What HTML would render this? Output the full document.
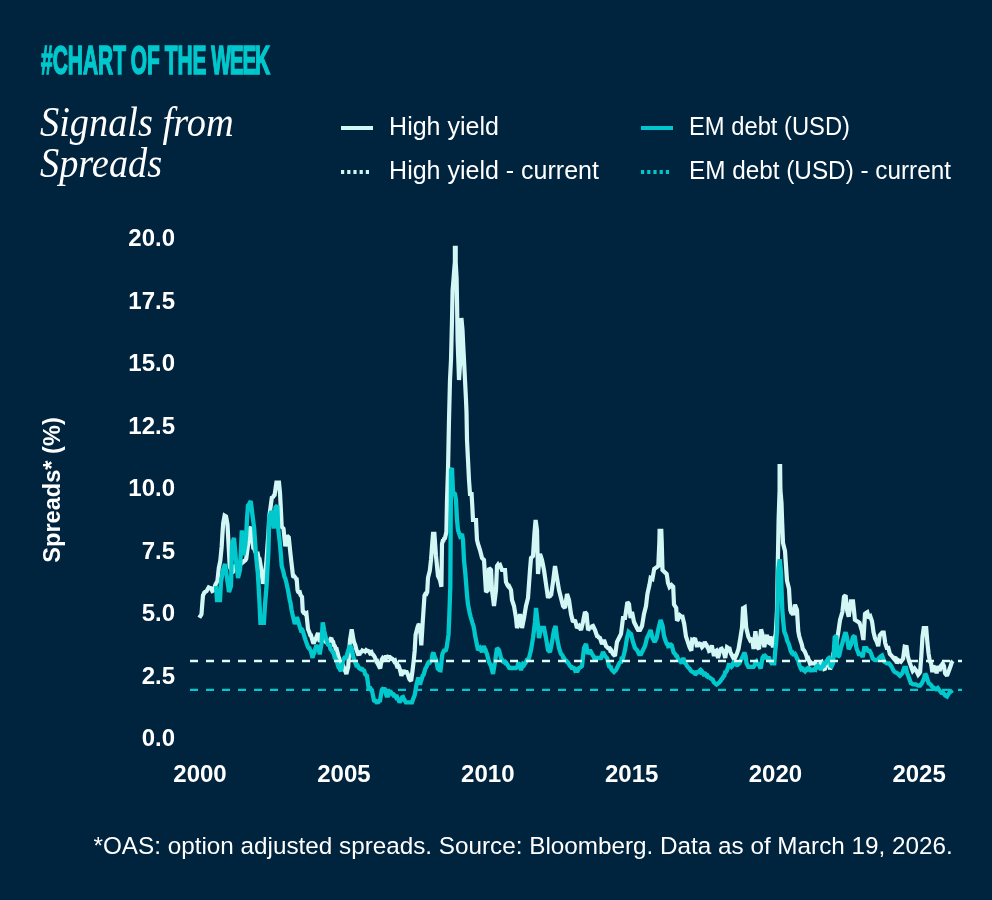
<!DOCTYPE html>
<html><head><meta charset="utf-8">
<style>
html,body{margin:0;padding:0;}
body{width:992px;height:900px;background:#00233e;position:relative;overflow:hidden;font-family:"Liberation Sans",sans-serif;color:#fff;}
.abs{position:absolute;white-space:nowrap;}
#kicker{left:41px;top:40.9px;font-family:"Liberation Sans",sans-serif;font-weight:bold;font-size:40.3px;color:#00c8cc;transform-origin:0 0;transform:scaleX(0.52);letter-spacing:0px;word-spacing:-2px;-webkit-text-stroke:1.6px #00c8cc;line-height:1;}
.title{left:40px;font-family:"Liberation Serif",serif;font-style:italic;font-size:43px;line-height:1;color:#fff;transform-origin:0 0;transform:scaleX(0.892);}
.leg{font-size:25px;line-height:1;color:#fff;transform-origin:0 0;}
.sw{position:absolute;height:4px;}
.ytick{position:absolute;right:817px;font-weight:bold;font-size:24px;line-height:1;text-align:right;}
.xtick{position:absolute;font-weight:bold;font-size:24px;line-height:1;width:100px;text-align:center;top:761.8px;}
#ylab{left:53.2px;top:489.5px;font-weight:bold;font-size:23.6px;line-height:1;transform:translate(-50%,-50%) rotate(-90deg);}
#foot{left:93.5px;top:833.5px;font-size:24.27px;line-height:1;}
</style></head>
<body>
<div id="kicker" class="abs">#CHART OF THE <span style="letter-spacing:-2.6px;margin-left:0px">WEEK</span></div>
<div class="abs title" style="top:100.4px">Signals from</div>
<div class="abs title" style="top:141.2px">Spreads</div>

<div class="sw" style="left:341px;top:126px;width:32px;background:#d2f7f5"></div>
<div class="abs leg" style="left:389.1px;top:114.4px">High yield</div>
<svg class="abs" style="left:341px;top:170px" width="30" height="4"><line x1="0" y1="2" x2="30" y2="2" stroke="#d2f7f5" stroke-width="4" stroke-dasharray="3.2 3"/></svg>
<div class="abs leg" style="left:389.1px;top:157.8px">High yield - current</div>

<div class="sw" style="left:641px;top:125.5px;width:32px;background:#00c8cc"></div>
<div class="abs leg" style="left:688.7px;top:114.4px;transform:scaleX(0.95)">EM debt (USD)</div>
<svg class="abs" style="left:641px;top:169.5px" width="30" height="4"><line x1="0" y1="2" x2="30" y2="2" stroke="#00c8cc" stroke-width="4" stroke-dasharray="3.2 3"/></svg>
<div class="abs leg" style="left:688.7px;top:157.8px;transform:scaleX(0.972)">EM debt (USD) - current</div>

<div id="ylab" class="abs">Spreads* (%)</div>

<div class="ytick" style="top:226px">20.0</div>
<div class="ytick" style="top:288.5px">17.5</div>
<div class="ytick" style="top:351px">15.0</div>
<div class="ytick" style="top:413.5px">12.5</div>
<div class="ytick" style="top:476px">10.0</div>
<div class="ytick" style="top:538.5px">7.5</div>
<div class="ytick" style="top:601px">5.0</div>
<div class="ytick" style="top:663.5px">2.5</div>
<div class="ytick" style="top:726px">0.0</div>

<div class="xtick" style="left:150px">2000</div>
<div class="xtick" style="left:293.9px">2005</div>
<div class="xtick" style="left:437.8px">2010</div>
<div class="xtick" style="left:581.7px">2015</div>
<div class="xtick" style="left:725.4px">2020</div>
<div class="xtick" style="left:869.1px">2025</div>

<svg class="abs" style="left:0;top:0" width="992" height="900" id="chart">
<path d="M199.3 617.8 L200.0 616.6 L200.8 615.4 L201.5 614.2 L202.2 604.8 L203.0 595.4 L203.7 594.0 L204.4 592.5 L205.1 592.0 L205.9 591.5 L206.6 591.0 L207.3 589.8 L208.0 588.6 L208.7 587.4 L209.4 587.7 L210.2 587.9 L210.9 588.2 L211.6 589.6 L212.3 591.0 L213.1 590.6 L213.8 590.3 L214.5 587.8 L215.2 585.3 L215.9 583.8 L216.7 582.4 L217.4 580.9 L218.1 574.4 L218.8 567.9 L219.6 564.3 L220.3 560.7 L221.0 553.5 L221.7 546.2 L222.4 534.7 L223.2 523.1 L223.9 519.4 L224.6 515.6 L225.3 516.0 L226.0 516.4 L226.8 520.5 L227.5 524.6 L228.5 543.4 L229.7 566.5 L230.5 568.3 L231.2 570.2 L232.0 572.0 L232.8 572.0 L233.5 570.7 L234.2 567.6 L235.0 566.0 L235.8 566.1 L236.5 566.7 L237.2 569.0 L238.0 570.0 L239.0 568.0 L240.0 566.0 L240.9 563.6 L241.8 561.9 L242.7 562.4 L243.6 561.7 L244.4 560.8 L245.3 560.4 L246.2 558.8 L247.1 551.9 L248.0 545.0 L248.8 537.0 L249.5 529.0 L250.2 528.0 L251.0 527.0 L252.0 540.0 L252.7 544.0 L253.3 548.0 L254.2 548.6 L255.1 551.5 L256.0 553.2 L256.9 555.0 L257.8 554.4 L258.6 558.2 L259.5 558.8 L260.4 564.1 L261.3 569.5 L262.1 576.6 L263.0 583.7 L263.9 580.2 L264.9 576.6 L265.8 567.7 L266.6 558.8 L267.5 545.0 L268.4 533.6 L269.3 516.2 L270.2 510.0 L271.1 502.9 L272.0 496.6 L272.9 497.8 L273.7 495.8 L274.6 494.9 L275.5 488.8 L276.4 482.6 L277.3 482.6 L278.1 482.6 L279.0 482.6 L280.0 493.0 L280.9 509.9 L281.7 526.8 L282.6 527.7 L283.5 528.6 L284.4 537.5 L285.3 546.4 L286.1 541.0 L287.0 535.7 L287.9 536.6 L288.8 537.5 L289.7 546.4 L290.6 555.3 L291.4 562.2 L292.2 569.1 L293.0 576.0 L293.7 577.4 L294.4 576.3 L295.2 577.3 L295.9 578.6 L296.6 577.8 L297.5 590.0 L298.2 591.9 L299.0 592.5 L299.8 592.3 L300.5 595.1 L301.2 595.9 L302.0 597.0 L302.8 611.6 L303.7 612.8 L304.6 612.7 L305.5 614.0 L306.4 613.4 L307.2 621.2 L308.0 629.0 L308.7 630.8 L309.5 632.8 L310.2 635.0 L311.0 635.2 L311.7 638.0 L312.6 640.8 L313.5 643.6 L314.3 641.7 L315.2 639.9 L316.0 638.0 L317.0 635.5 L318.0 633.0 L318.9 637.4 L319.7 641.8 L320.6 640.2 L321.5 638.8 L322.4 638.0 L323.1 640.5 L323.8 639.4 L324.6 640.9 L325.3 641.6 L326.0 641.8 L326.9 642.7 L327.7 643.6 L328.4 642.2 L329.1 640.0 L329.9 641.1 L330.6 638.8 L331.3 638.0 L332.2 641.1 L333.1 641.8 L334.0 645.4 L334.9 646.2 L335.7 648.9 L336.6 649.0 L337.5 652.5 L338.4 656.0 L339.2 658.7 L340.0 661.4 L340.7 663.6 L341.5 662.5 L342.2 663.6 L343.0 665.7 L343.7 666.8 L344.6 669.7 L345.5 671.7 L346.4 673.9 L347.3 670.3 L348.2 666.8 L349.1 653.4 L350.0 640.0 L350.9 634.7 L351.7 629.4 L352.6 634.7 L353.5 640.0 L354.4 643.3 L355.3 645.1 L356.2 649.0 L357.1 651.5 L358.0 654.0 L358.9 653.9 L359.8 653.8 L360.6 652.0 L361.5 651.8 L362.3 650.5 L363.0 650.9 L363.8 652.1 L364.6 649.8 L365.4 651.1 L366.1 650.2 L366.9 650.9 L367.6 650.9 L368.4 651.0 L369.1 651.4 L369.8 652.8 L370.6 652.0 L371.3 651.8 L372.2 654.3 L373.1 654.5 L374.0 656.0 L374.9 657.4 L375.8 659.9 L376.6 659.1 L377.5 663.2 L378.4 664.9 L379.3 666.9 L380.2 668.5 L381.0 664.0 L381.8 659.6 L382.7 658.2 L383.6 659.1 L384.4 657.9 L385.3 657.9 L386.1 655.8 L386.8 657.5 L387.6 656.7 L388.3 656.9 L389.1 657.1 L389.8 657.1 L390.7 658.7 L391.6 658.3 L392.5 658.8 L393.4 659.9 L394.2 661.3 L395.1 660.6 L396.0 663.2 L396.7 665.2 L397.4 664.5 L398.2 666.7 L398.9 666.6 L399.6 668.5 L400.5 672.1 L401.4 675.7 L402.3 673.2 L403.1 671.8 L404.0 670.3 L404.9 672.3 L405.8 672.0 L406.7 672.0 L407.6 673.9 L408.5 676.6 L409.4 679.2 L410.2 680.1 L411.1 681.0 L412.1 673.9 L413.0 666.8 L413.9 658.8 L414.7 650.7 L415.6 634.7 L416.5 631.2 L417.4 627.6 L418.3 625.3 L419.1 625.2 L420.0 624.0 L420.6 634.7 L421.3 645.4 L422.0 633.8 L422.7 622.3 L423.6 609.0 L424.5 595.6 L425.4 593.8 L426.3 594.0 L427.2 592.0 L428.0 577.8 L428.9 574.2 L429.8 570.7 L431.0 560.0 L432.0 547.0 L433.0 533.9 L433.7 533.9 L434.4 533.9 L435.2 545.0 L436.0 556.0 L437.0 566.0 L438.0 576.0 L439.0 578.0 L440.0 580.0 L440.7 583.4 L441.4 586.7 L442.0 544.0 L442.8 540.8 L443.5 540.6 L444.2 538.4 L445.0 538.0 L445.7 535.0 L446.4 532.0 L447.0 500.0 L448.0 470.0 L449.0 420.0 L450.0 380.0 L451.0 360.0 L452.0 320.0 L452.6 290.0 L453.4 280.7 L454.1 271.3 L454.9 262.0 L454.9 247.9 L455.7 247.9 L455.7 262.0 L456.6 278.0 L457.0 300.0 L457.6 340.0 L458.5 365.0 L459.0 380.0 L460.0 365.0 L460.7 341.5 L461.4 318.0 L462.5 330.0 L463.2 345.0 L464.0 360.0 L465.0 380.0 L466.0 400.0 L466.5 412.0 L467.0 440.0 L468.0 460.0 L469.0 480.0 L470.0 494.0 L470.8 494.0 L471.6 494.0 L472.4 508.0 L473.0 520.0 L473.8 520.0 L474.5 520.0 L475.2 520.0 L476.0 520.0 L477.0 540.0 L478.0 544.0 L479.0 547.0 L480.0 550.0 L481.0 554.0 L482.0 558.0 L483.0 559.0 L484.0 560.0 L485.0 576.0 L486.0 592.0 L487.0 591.0 L488.0 590.0 L489.0 568.0 L490.0 569.0 L491.0 570.0 L492.0 590.0 L493.0 598.0 L494.0 606.0 L495.0 598.0 L496.0 590.0 L497.0 565.9 L497.8 564.8 L498.5 566.2 L499.2 565.3 L500.0 564.9 L501.0 567.5 L502.0 570.0 L502.8 570.0 L503.5 570.0 L504.2 570.0 L505.0 570.0 L506.0 582.0 L506.8 583.7 L507.5 585.3 L508.2 586.3 L509.0 586.0 L510.0 588.0 L511.0 590.0 L512.0 600.0 L513.0 603.0 L514.0 606.0 L515.0 612.0 L516.0 618.0 L517.0 628.0 L518.0 625.0 L519.0 622.0 L520.0 614.0 L521.0 621.0 L522.0 628.0 L523.0 623.0 L524.0 618.0 L525.0 612.0 L526.0 606.0 L527.0 602.0 L528.0 598.0 L529.0 584.0 L530.0 570.0 L531.0 558.0 L532.0 557.0 L533.0 556.0 L533.7 545.0 L534.4 534.0 L535.0 527.0 L535.6 520.0 L536.3 525.0 L537.0 530.0 L538.0 574.0 L539.0 564.0 L540.0 554.0 L541.0 557.0 L542.0 560.0 L543.0 565.0 L544.0 570.0 L545.0 577.0 L546.0 584.0 L547.0 591.0 L548.0 598.0 L548.8 596.0 L549.5 597.6 L550.2 594.6 L551.0 596.0 L552.0 589.0 L553.0 582.0 L554.0 574.0 L555.0 566.0 L556.0 572.0 L557.0 578.0 L558.0 584.0 L559.0 590.0 L560.0 594.0 L561.0 598.0 L562.0 602.0 L563.0 606.0 L564.0 607.0 L565.0 608.0 L566.0 601.0 L567.0 594.0 L568.0 597.0 L569.0 600.0 L570.0 607.0 L571.0 614.0 L572.0 618.0 L573.0 622.0 L574.0 621.0 L575.0 620.0 L576.0 624.0 L577.0 628.0 L578.0 627.0 L579.0 626.0 L580.0 628.0 L581.0 630.0 L582.0 626.0 L583.0 622.0 L584.0 617.0 L585.0 612.0 L585.8 613.0 L586.6 614.0 L587.3 622.0 L588.0 630.0 L589.0 629.0 L590.0 628.0 L590.8 627.4 L591.5 628.8 L592.2 626.3 L593.0 626.0 L594.0 628.0 L595.0 630.0 L596.0 633.0 L597.0 636.0 L597.8 636.2 L598.5 637.2 L599.2 637.5 L600.0 638.0 L601.0 641.0 L602.0 644.0 L603.0 642.0 L604.0 640.0 L605.0 643.0 L606.0 646.0 L607.0 647.0 L608.0 648.0 L608.8 648.5 L609.5 648.4 L610.2 650.4 L611.0 650.0 L612.0 652.0 L613.0 654.0 L614.0 655.0 L615.0 656.0 L616.0 649.0 L617.0 642.0 L618.0 640.0 L619.0 638.0 L620.0 636.0 L621.0 634.0 L622.0 626.0 L623.0 618.0 L624.0 618.0 L625.0 618.0 L625.8 612.7 L626.6 607.3 L627.4 602.0 L628.2 603.0 L629.0 604.0 L629.8 611.0 L630.6 618.0 L631.3 615.0 L632.0 612.0 L633.0 617.0 L634.0 622.0 L635.0 624.0 L636.0 626.0 L637.0 628.0 L638.0 630.0 L639.0 630.0 L640.0 630.0 L641.0 628.0 L642.0 626.0 L643.0 620.0 L644.0 614.0 L645.0 610.0 L646.0 606.0 L646.7 600.0 L647.4 594.0 L648.4 589.5 L649.4 585.0 L650.0 581.5 L650.6 578.0 L651.5 578.5 L652.4 579.0 L653.3 574.0 L654.2 569.0 L654.9 568.5 L655.6 568.0 L656.3 567.5 L657.3 566.8 L658.3 566.0 L659.4 541.0 L659.6 530.9 L660.5 530.9 L661.3 530.9 L661.7 541.0 L662.5 570.0 L663.5 571.0 L664.5 572.0 L665.2 572.7 L666.0 573.3 L666.7 574.0 L667.4 578.5 L668.0 583.0 L668.8 585.0 L669.5 587.0 L670.5 586.0 L671.5 585.0 L672.4 585.9 L673.2 586.7 L674.0 604.5 L674.7 605.7 L675.5 606.8 L676.2 608.0 L677.0 620.5 L677.9 619.6 L678.9 616.8 L679.8 615.3 L680.7 616.1 L681.6 617.0 L682.5 616.9 L683.4 620.5 L684.2 624.0 L685.1 630.2 L686.0 636.5 L686.9 639.1 L687.8 641.8 L688.7 644.5 L689.6 647.2 L690.5 649.0 L691.4 650.7 L692.2 640.0 L693.1 640.4 L694.1 639.2 L695.0 638.3 L695.9 641.8 L696.7 645.4 L697.6 645.4 L698.5 644.0 L699.4 643.6 L700.3 643.9 L701.1 645.6 L702.0 647.2 L702.9 646.3 L703.8 644.5 L704.7 641.8 L705.6 643.7 L706.5 644.9 L707.4 647.2 L708.3 648.6 L709.1 651.0 L710.0 650.7 L710.9 648.0 L711.8 645.4 L712.7 649.8 L713.6 654.3 L714.5 654.2 L715.4 651.3 L716.3 650.7 L717.1 654.3 L718.0 657.9 L718.9 654.9 L719.8 650.7 L720.7 649.0 L721.6 648.6 L722.5 650.3 L723.4 650.7 L724.3 654.3 L725.2 657.9 L726.1 652.5 L727.0 647.2 L727.9 647.8 L728.7 649.2 L729.6 649.0 L730.5 652.4 L731.4 654.4 L732.3 656.0 L733.2 657.7 L734.1 656.8 L735.0 657.9 L735.9 656.1 L736.7 654.3 L737.6 651.6 L738.5 649.0 L739.4 643.6 L740.3 638.3 L741.1 633.0 L742.0 627.6 L743.0 608.2 L743.9 607.8 L744.7 607.3 L745.5 617.5 L746.2 627.6 L746.9 630.6 L747.6 633.5 L748.3 636.5 L749.1 638.2 L750.0 640.0 L751.0 639.1 L751.9 638.3 L752.8 643.6 L753.6 649.0 L754.5 640.1 L755.4 631.2 L756.3 639.2 L757.2 647.2 L758.1 648.1 L759.0 649.0 L759.7 642.5 L760.4 635.9 L761.1 629.4 L761.8 632.0 L762.5 634.7 L763.4 641.0 L764.3 647.2 L765.2 642.0 L766.1 639.3 L767.0 634.7 L767.7 642.0 L768.6 642.6 L769.4 638.8 L770.3 636.7 L771.2 639.2 L772.1 644.0 L773.0 647.3 L773.9 644.1 L774.8 637.5 L775.7 634.0 L776.4 622.0 L777.0 610.0 L777.8 565.0 L778.6 520.0 L779.6 490.0 L779.6 466.1 L780.1 466.1 L780.4 490.0 L781.5 503.0 L782.2 523.0 L783.0 543.0 L784.0 547.0 L785.0 551.0 L786.0 565.9 L787.0 580.7 L788.0 584.7 L789.0 588.7 L789.6 599.4 L790.3 610.0 L791.2 612.5 L792.1 612.7 L793.0 615.0 L794.0 609.9 L795.0 604.7 L796.0 607.4 L797.0 610.0 L797.6 620.6 L798.3 631.3 L799.2 636.0 L800.1 639.1 L801.0 642.0 L801.9 644.9 L802.8 649.1 L803.7 650.0 L804.6 651.4 L805.4 653.0 L806.3 655.3 L807.2 658.6 L808.1 658.2 L809.0 660.7 L809.9 663.3 L810.8 662.4 L811.7 663.3 L812.6 663.3 L813.4 663.3 L814.3 663.3 L815.1 663.0 L815.9 664.4 L816.7 665.0 L817.5 665.6 L818.3 666.0 L819.2 664.9 L820.1 665.1 L821.0 663.3 L821.8 662.5 L822.6 665.0 L823.4 666.3 L824.2 669.0 L825.0 668.7 L825.8 665.0 L826.6 664.2 L827.4 661.4 L828.2 659.6 L829.0 658.0 L830.0 669.5 L830.8 666.4 L831.6 663.3 L832.4 658.6 L833.1 654.0 L833.9 651.9 L834.6 649.9 L835.4 647.8 L836.2 643.6 L837.0 639.5 L837.8 635.3 L838.6 630.1 L839.3 625.0 L840.1 619.8 L840.9 617.2 L841.6 614.6 L842.4 612.0 L843.2 604.4 L844.0 596.8 L844.8 596.0 L845.6 595.2 L846.4 602.8 L847.1 610.4 L847.9 613.5 L848.7 616.7 L849.5 611.6 L850.2 606.5 L851.0 601.4 L852.0 601.4 L853.0 601.4 L854.0 610.6 L854.9 619.8 L855.7 620.3 L856.4 620.8 L857.2 621.3 L858.0 621.8 L858.7 622.4 L859.5 622.9 L860.3 625.5 L861.1 628.1 L861.9 630.7 L862.6 635.4 L863.4 640.0 L864.2 627.0 L865.0 613.9 L865.8 613.4 L866.5 612.8 L867.3 612.3 L868.1 615.2 L868.9 618.2 L869.6 617.5 L870.4 616.7 L871.2 619.0 L872.0 621.3 L872.8 626.8 L873.5 632.2 L874.3 635.3 L875.1 638.4 L875.9 640.0 L876.7 641.5 L877.5 643.9 L878.2 646.2 L879.0 640.8 L879.8 635.3 L880.6 634.4 L881.3 633.5 L882.1 632.6 L882.9 632.6 L883.7 632.6 L884.5 637.9 L885.2 643.1 L886.0 645.5 L886.8 647.8 L887.5 647.8 L888.3 647.8 L889.1 650.9 L889.9 654.0 L890.6 654.8 L891.4 655.5 L892.2 656.5 L893.0 657.6 L893.8 658.6 L894.5 657.9 L895.3 657.1 L896.1 660.2 L896.9 663.3 L897.6 661.8 L898.4 660.2 L899.2 660.7 L900.0 661.3 L900.8 661.8 L901.6 660.7 L902.3 659.7 L903.1 658.6 L903.9 652.6 L904.7 646.6 L905.7 646.9 L906.6 647.1 L907.8 656.2 L908.5 658.7 L909.1 661.1 L910.0 663.5 L910.9 666.0 L911.8 668.5 L912.7 670.9 L913.7 669.7 L914.6 668.5 L915.5 669.7 L916.4 670.9 L917.3 672.8 L918.2 674.6 L919.2 673.4 L920.1 672.1 L921.3 656.2 L921.9 646.5 L922.5 636.7 L923.1 632.5 L923.7 628.2 L924.5 628.2 L925.4 628.2 L926.2 628.2 L927.4 642.8 L928.0 648.3 L928.6 653.8 L929.8 661.1 L930.5 662.4 L931.1 663.6 L932.3 672.1 L932.9 669.0 L933.5 666.0 L934.4 667.2 L935.3 668.5 L936.0 670.9 L936.6 673.3 L937.8 666.0 L938.7 668.5 L939.6 670.9 L940.8 666.0 L941.8 664.8 L942.7 663.6 L943.9 666.0 L944.5 669.6 L945.1 673.3 L946.0 674.5 L947.0 675.8 L947.9 673.3 L948.8 670.9 L949.7 668.5 L950.6 666.0 L951.8 662.3 L952.4 661.6 L953.0 661.0" fill="none" stroke="#d2f7f5" stroke-width="4.2" stroke-linejoin="miter" stroke-miterlimit="2" stroke-linecap="butt"/>
<path d="M216.0 586.0 L217.0 600.0 L217.8 600.0 L218.5 600.0 L219.2 600.0 L220.0 600.0 L221.0 582.0 L222.0 576.0 L223.0 570.0 L224.0 567.0 L225.0 564.0 L226.0 571.0 L227.0 578.0 L228.0 585.0 L229.0 592.0 L230.0 589.0 L231.0 586.0 L232.0 544.0 L233.0 541.0 L234.0 538.0 L235.0 549.0 L236.0 560.0 L237.0 569.0 L238.0 578.0 L239.0 574.0 L240.0 570.0 L240.9 550.2 L241.8 530.4 L242.7 542.8 L243.6 555.3 L244.4 550.0 L245.3 544.6 L246.2 534.7 L247.1 517.6 L248.0 505.5 L248.9 504.6 L249.8 502.8 L250.7 501.1 L251.6 507.8 L252.4 514.4 L253.3 521.5 L254.2 528.6 L255.1 542.0 L256.0 555.3 L256.9 564.1 L257.8 573.0 L258.8 590.0 L259.6 605.0 L260.4 622.9 L261.3 622.9 L262.1 622.9 L263.0 622.9 L263.9 622.9 L265.0 605.0 L265.8 595.0 L266.6 585.0 L267.5 568.4 L268.4 551.7 L269.3 514.4 L270.2 515.0 L271.1 511.2 L272.0 512.6 L272.9 520.6 L273.7 528.6 L274.6 518.0 L275.5 507.3 L276.4 506.4 L277.3 505.5 L278.2 528.6 L279.1 536.6 L280.0 544.6 L280.9 555.2 L281.7 565.9 L282.6 569.0 L283.5 572.2 L284.4 576.6 L285.3 578.4 L286.1 581.6 L287.0 585.5 L287.9 589.7 L288.8 594.7 L289.7 599.7 L290.6 603.5 L291.5 609.6 L292.4 613.9 L293.2 617.3 L294.0 620.6 L294.8 624.0 L295.7 621.7 L296.6 617.4 L297.5 618.7 L298.3 621.7 L299.2 624.6 L300.0 627.6 L300.7 629.6 L301.4 628.9 L302.1 629.5 L302.8 631.0 L303.7 634.2 L304.6 637.2 L305.5 640.0 L306.3 642.3 L307.2 644.7 L308.0 647.0 L308.7 648.0 L309.4 648.1 L310.1 649.9 L310.8 650.7 L311.7 654.3 L312.6 657.9 L313.5 653.7 L314.3 653.2 L315.2 649.0 L315.9 647.0 L316.6 647.0 L317.3 646.3 L318.0 645.4 L318.9 649.8 L319.7 654.3 L320.6 649.0 L321.5 643.6 L322.7 622.3 L323.5 626.4 L324.2 630.6 L325.0 634.7 L325.9 637.9 L326.8 640.4 L327.7 643.6 L328.6 645.8 L329.5 644.1 L330.4 649.0 L331.3 650.0 L332.1 651.1 L333.0 652.5 L333.9 654.1 L334.8 657.9 L335.7 658.8 L336.6 660.6 L337.5 664.0 L338.4 666.8 L339.3 666.6 L340.1 669.8 L341.0 671.2 L341.9 666.3 L342.8 661.4 L343.7 658.8 L344.6 657.7 L345.5 657.9 L346.4 657.4 L347.3 653.6 L348.2 650.7 L349.1 648.0 L350.0 645.4 L350.9 647.2 L351.7 649.0 L352.6 653.5 L353.5 657.9 L354.4 660.2 L355.3 662.7 L356.2 665.0 L357.1 664.6 L357.9 665.8 L358.8 667.9 L359.7 668.5 L360.4 667.1 L361.1 669.3 L361.9 668.1 L362.6 669.9 L363.3 670.3 L364.2 670.7 L365.1 674.2 L366.0 675.0 L366.9 675.7 L367.8 681.9 L368.6 688.0 L369.5 688.5 L370.4 688.4 L371.3 690.1 L372.2 691.7 L373.1 696.2 L374.0 700.6 L374.9 701.0 L375.7 701.0 L376.6 702.3 L377.5 702.0 L378.3 702.0 L379.1 700.9 L380.0 700.6 L380.9 695.3 L381.8 690.0 L382.7 688.9 L383.5 689.1 L384.4 688.0 L385.3 690.7 L386.1 694.5 L387.0 697.0 L387.7 695.4 L388.4 695.4 L389.1 692.7 L389.8 691.7 L390.7 691.8 L391.6 693.4 L392.4 693.8 L393.3 695.2 L394.0 694.8 L394.8 695.7 L395.5 696.7 L396.3 695.1 L397.0 697.0 L397.9 698.7 L398.7 700.3 L399.6 702.3 L400.5 700.8 L401.3 700.1 L402.1 697.4 L403.0 697.0 L403.7 698.7 L404.4 699.4 L405.1 701.0 L405.8 702.3 L406.7 702.3 L407.6 702.3 L408.5 702.3 L409.4 702.3 L410.2 702.3 L411.1 702.3 L412.0 702.3 L412.9 699.7 L413.8 697.3 L414.7 695.2 L415.6 689.9 L416.5 684.6 L417.4 681.0 L418.3 677.4 L419.1 681.0 L420.0 684.6 L420.9 681.2 L421.8 678.9 L422.7 675.7 L423.6 674.8 L424.5 671.6 L425.4 668.5 L426.3 667.3 L427.1 665.3 L428.0 663.2 L428.9 662.1 L429.8 662.4 L430.7 661.4 L431.6 660.1 L432.5 654.3 L433.4 652.5 L434.3 655.5 L435.1 658.0 L436.0 659.6 L436.9 664.0 L437.8 668.5 L438.7 669.2 L439.6 670.2 L440.5 670.3 L441.4 662.3 L442.3 654.3 L443.1 652.5 L444.0 650.7 L444.9 650.7 L445.8 650.2 L446.7 647.2 L447.6 641.0 L448.5 634.7 L449.4 613.4 L450.3 586.7 L450.6 540.0 L451.0 470.0 L452.0 468.0 L453.0 492.0 L454.0 493.0 L455.0 494.0 L456.0 500.0 L457.0 520.0 L458.0 530.0 L459.0 533.0 L460.0 536.0 L461.0 535.0 L462.0 534.0 L463.0 540.0 L464.0 560.0 L464.7 567.1 L465.4 574.2 L466.3 585.7 L467.1 596.1 L468.0 604.5 L468.9 608.9 L469.8 613.6 L470.7 617.0 L471.6 620.0 L472.5 623.1 L473.4 625.8 L474.3 630.0 L475.1 635.8 L476.0 640.0 L477.0 645.0 L478.0 650.0 L479.0 649.0 L480.0 648.0 L481.0 650.0 L482.0 652.0 L483.0 649.0 L484.0 646.0 L484.8 649.2 L485.5 649.8 L486.2 652.2 L487.0 654.0 L488.0 658.0 L489.0 662.0 L490.0 664.0 L491.0 666.0 L492.0 670.0 L493.0 674.0 L494.0 668.0 L495.0 662.0 L496.0 655.0 L497.0 648.0 L498.0 649.0 L499.0 650.0 L500.0 654.0 L501.0 658.0 L501.8 659.5 L502.5 660.0 L503.2 661.7 L504.0 662.0 L504.8 662.7 L505.5 662.0 L506.2 662.6 L507.0 664.0 L507.8 665.5 L508.5 666.5 L509.2 667.8 L510.0 668.0 L510.8 668.0 L511.5 668.0 L512.2 668.0 L513.0 668.0 L513.8 668.0 L514.5 668.0 L515.2 668.0 L516.0 668.0 L516.8 667.2 L517.5 666.1 L518.2 663.7 L519.0 664.0 L520.0 667.0 L521.0 670.0 L522.0 667.0 L523.0 664.0 L523.8 664.6 L524.5 662.2 L525.2 663.3 L526.0 662.0 L526.8 660.0 L527.5 659.4 L528.2 659.1 L529.0 658.0 L530.0 654.0 L531.0 650.0 L532.0 644.0 L533.0 638.0 L534.0 630.0 L535.0 622.0 L536.0 608.0 L537.0 617.0 L538.0 626.0 L539.0 638.0 L540.0 633.0 L541.0 627.9 L541.8 627.9 L542.5 627.9 L543.2 627.9 L544.0 627.9 L545.0 633.0 L546.0 638.0 L547.0 644.0 L548.0 650.0 L549.0 651.0 L550.0 652.0 L551.0 647.0 L552.0 642.0 L553.0 636.0 L554.0 630.0 L554.8 628.0 L555.6 626.0 L556.3 632.0 L557.0 638.0 L558.0 643.0 L559.0 648.0 L560.0 651.0 L561.0 654.0 L561.8 654.6 L562.5 655.4 L563.2 657.7 L564.0 658.0 L564.8 659.5 L565.5 660.3 L566.2 660.7 L567.0 662.0 L567.8 662.3 L568.5 663.6 L569.2 664.6 L570.0 666.0 L570.8 666.5 L571.5 667.6 L572.2 667.3 L573.0 668.0 L573.8 667.9 L574.5 668.5 L575.2 670.5 L576.0 670.0 L577.0 672.0 L578.0 670.0 L579.0 668.0 L579.8 667.6 L580.5 667.2 L581.2 666.7 L582.0 666.0 L583.0 657.0 L584.0 648.0 L585.0 646.0 L586.0 644.0 L587.0 649.0 L588.0 654.0 L589.0 652.0 L590.0 650.0 L591.0 652.0 L592.0 654.0 L592.8 655.5 L593.5 656.1 L594.2 658.0 L595.0 658.0 L595.8 658.0 L596.5 658.0 L597.2 658.0 L598.0 658.0 L598.8 658.0 L599.5 658.0 L600.2 658.0 L601.0 658.0 L602.0 655.0 L603.0 652.0 L604.0 654.0 L605.0 656.0 L606.0 657.0 L607.0 658.0 L608.0 662.0 L609.0 666.0 L609.8 667.6 L610.5 665.8 L611.2 668.9 L612.0 670.0 L613.0 671.0 L614.0 672.0 L615.0 671.0 L616.0 670.0 L617.0 668.0 L618.0 666.0 L619.0 664.0 L620.0 662.0 L620.8 663.4 L621.5 658.9 L622.2 659.1 L623.0 658.0 L624.0 654.0 L625.0 650.0 L626.0 644.0 L627.0 638.0 L627.8 635.0 L628.6 632.0 L629.4 632.7 L630.2 633.3 L631.0 634.0 L632.0 638.0 L633.0 642.0 L634.0 645.0 L635.0 648.0 L636.0 649.0 L637.0 650.0 L638.0 652.0 L639.0 654.0 L640.0 654.0 L641.0 654.0 L642.0 652.0 L643.0 650.0 L644.0 648.0 L645.0 646.0 L646.0 642.0 L647.0 638.0 L648.0 636.0 L649.0 634.0 L649.8 632.0 L650.6 630.0 L651.6 634.0 L652.6 638.0 L653.6 640.0 L654.6 642.0 L655.6 640.0 L656.6 638.0 L657.6 633.0 L658.6 628.0 L659.6 624.0 L660.6 620.0 L661.6 623.0 L662.6 626.0 L663.3 631.0 L664.0 636.0 L665.0 639.0 L666.0 642.0 L666.8 643.9 L667.5 644.0 L668.2 646.2 L669.0 646.0 L669.9 644.7 L670.9 644.5 L671.8 645.4 L672.7 649.0 L673.6 652.5 L674.5 653.5 L675.3 654.2 L676.2 656.0 L677.1 656.3 L678.0 658.9 L678.9 659.6 L679.8 661.0 L680.7 662.0 L681.6 663.2 L682.5 660.5 L683.3 657.9 L684.2 660.5 L685.1 663.2 L686.0 664.1 L686.9 665.8 L687.8 666.8 L688.7 667.9 L689.6 668.6 L690.5 670.3 L691.4 671.3 L692.2 671.7 L693.1 672.0 L694.0 672.7 L694.9 673.8 L695.8 673.9 L696.7 672.4 L697.6 672.5 L698.5 672.0 L699.4 671.0 L700.2 671.9 L701.1 670.3 L702.0 671.3 L702.9 673.1 L703.8 672.0 L704.7 674.4 L705.6 674.2 L706.5 675.7 L707.4 675.5 L708.2 677.2 L709.1 677.4 L710.0 677.8 L710.9 678.5 L711.8 679.2 L712.7 679.6 L713.6 682.0 L714.5 682.8 L715.2 683.4 L715.9 684.0 L716.6 684.6 L717.4 684.0 L718.2 683.4 L719.0 682.8 L719.9 681.7 L720.7 680.7 L721.6 679.2 L722.5 678.3 L723.4 676.2 L724.3 675.7 L725.2 672.2 L726.1 671.9 L727.0 670.3 L727.9 667.6 L728.7 665.0 L729.6 665.1 L730.5 665.8 L731.4 666.8 L732.3 665.8 L733.1 663.1 L734.0 661.4 L734.9 663.8 L735.8 663.9 L736.7 665.0 L737.6 664.9 L738.5 664.2 L739.4 663.2 L740.3 661.4 L741.2 659.6 L742.1 657.8 L743.0 656.0 L743.7 654.2 L744.4 652.5 L745.0 654.2 L745.6 656.0 L746.5 663.2 L747.4 665.0 L748.3 666.8 L749.2 666.8 L750.1 666.8 L751.0 666.8 L751.9 666.8 L752.7 666.8 L753.6 666.8 L754.5 665.6 L755.4 662.2 L756.3 661.4 L757.2 663.5 L758.1 663.9 L759.0 665.0 L759.9 666.8 L760.7 668.5 L761.6 663.2 L762.5 657.9 L763.4 656.5 L764.3 657.1 L765.2 656.0 L766.1 656.9 L767.0 658.3 L767.9 657.9 L769.0 658.0 L769.9 660.4 L770.8 661.8 L771.7 663.3 L772.6 663.3 L773.4 663.3 L774.3 663.3 L775.2 651.3 L776.1 643.4 L777.0 631.3 L777.6 600.6 L778.3 570.0 L779.0 564.6 L779.7 559.3 L780.4 566.0 L781.0 572.7 L781.6 591.4 L782.3 610.0 L783.2 620.6 L784.2 631.3 L784.9 633.1 L785.6 634.9 L786.3 636.7 L787.2 640.7 L788.1 642.7 L789.0 644.7 L789.9 647.8 L790.8 651.1 L791.7 652.7 L792.5 652.5 L793.3 654.3 L794.1 654.3 L794.9 653.9 L795.7 655.3 L796.6 657.4 L797.4 659.2 L798.3 660.7 L799.2 664.7 L800.1 666.8 L801.0 668.7 L801.8 668.0 L802.6 668.2 L803.4 670.2 L804.2 670.6 L805.0 671.3 L805.8 670.1 L806.6 669.1 L807.4 669.6 L808.2 668.3 L809.0 668.7 L809.8 668.7 L810.6 670.4 L811.4 670.4 L812.2 670.2 L813.0 671.3 L813.8 669.4 L814.6 669.0 L815.4 669.5 L816.2 666.7 L817.0 666.0 L817.8 667.9 L818.6 666.5 L819.4 667.5 L820.2 668.7 L821.0 668.7 L821.8 667.0 L822.6 666.6 L823.4 664.4 L824.2 664.9 L825.0 663.3 L825.8 663.2 L826.6 660.7 L827.4 660.3 L828.2 658.7 L829.0 658.0 L829.9 659.1 L830.7 665.8 L831.6 666.4 L832.4 664.8 L833.1 663.3 L833.9 650.2 L834.7 637.2 L835.5 636.4 L836.2 635.7 L837.0 646.4 L837.8 657.1 L838.5 656.3 L839.3 655.5 L840.1 651.6 L840.9 647.8 L841.6 645.5 L842.4 643.1 L843.2 640.0 L844.0 636.9 L844.8 634.5 L845.6 632.2 L846.4 635.3 L847.1 638.4 L847.9 643.8 L848.7 649.3 L849.5 647.8 L850.2 646.2 L851.0 644.7 L852.0 641.0 L853.0 637.2 L853.8 636.4 L854.6 635.7 L855.5 641.8 L856.4 647.8 L857.2 649.9 L858.0 651.9 L858.8 654.0 L859.6 654.0 L860.3 654.0 L861.1 654.0 L861.9 655.5 L862.7 657.1 L863.5 652.6 L864.2 648.1 L865.0 648.1 L865.7 648.1 L866.5 648.1 L867.3 649.5 L868.1 650.9 L868.9 650.9 L869.7 650.9 L870.5 652.5 L871.2 654.0 L872.0 656.3 L872.8 658.6 L873.6 659.1 L874.3 659.7 L875.1 660.2 L875.9 660.2 L876.6 660.2 L877.4 660.2 L878.2 659.2 L879.0 658.1 L879.8 657.1 L880.6 656.6 L881.3 656.0 L882.1 655.5 L882.9 657.6 L883.6 659.7 L884.4 661.8 L885.2 662.3 L886.0 662.8 L886.8 663.3 L887.6 663.3 L888.3 663.3 L889.1 663.3 L889.9 664.3 L890.6 665.4 L891.4 666.4 L892.2 668.0 L893.0 669.5 L893.8 671.1 L894.4 671.6 L895.0 672.1 L895.8 672.5 L896.6 672.9 L897.4 673.3 L898.2 674.1 L899.1 675.0 L899.9 675.8 L900.7 675.0 L901.5 674.1 L902.3 673.3 L903.2 670.6 L904.2 667.9 L905.1 667.9 L906.0 667.9 L906.6 670.6 L907.2 673.3 L908.2 675.8 L909.1 678.2 L910.0 680.7 L910.9 683.1 L911.7 683.5 L912.5 684.0 L913.3 684.4 L914.1 684.4 L915.0 684.4 L915.8 684.4 L916.6 684.8 L917.4 685.2 L918.2 685.6 L919.2 685.6 L920.1 685.6 L921.0 684.4 L921.9 683.1 L922.8 681.3 L923.7 679.5 L924.4 676.8 L925.0 674.0 L925.6 674.6 L926.2 675.2 L927.4 679.5 L928.0 681.3 L928.6 683.1 L929.5 683.8 L930.5 684.4 L931.4 685.6 L932.3 686.8 L933.2 687.4 L934.1 688.0 L935.0 688.6 L936.0 689.2 L936.9 688.6 L937.8 688.0 L938.7 689.2 L939.6 690.5 L940.5 691.7 L941.5 692.9 L942.4 692.9 L943.3 692.9 L944.2 694.1 L945.1 695.4 L946.0 696.0 L947.0 696.6 L947.9 695.0 L948.8 693.5 L949.7 692.6 L950.6 691.7 L951.5 691.0 L952.4 690.2" fill="none" stroke="#00c8cc" stroke-width="4.3" stroke-linejoin="miter" stroke-miterlimit="2" stroke-linecap="butt"/>
<line x1="190" y1="661" x2="962" y2="661" stroke="#e0fcfb" stroke-width="2.3" stroke-dasharray="8 8"/>
<line x1="190" y1="689.8" x2="962" y2="689.8" stroke="#00c8cc" stroke-width="2.3" stroke-dasharray="8 8"/>
</svg>

<div id="foot" class="abs">*OAS: option adjusted spreads. Source: Bloomberg. Data as of March 19, 2026.</div>
</body></html>
